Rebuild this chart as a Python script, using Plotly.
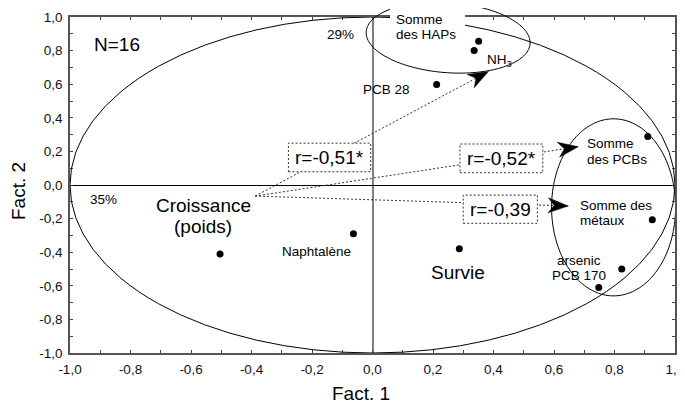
import numpy as np
import plotly.graph_objects as go

FONT = "Liberation Sans, Arial, sans-serif"

# ---------------- data ----------------
var_names = ["Croissance (poids)", "Naphtalène", "Survie", "PCB 28", "Somme des HAPs", "NH3",
             "Somme des PCBs", "Somme des métaux", "arsenic", "PCB 170"]
fact1 = [-0.504, -0.063, 0.287, 0.212, 0.351, 0.336, 0.910, 0.925, 0.824, 0.748]
fact2 = [-0.410, -0.290, -0.380, 0.598, 0.855, 0.800, 0.288, -0.207, -0.500, -0.610]

# correlation arrows (from the "Croissance" label towards groups)
r_texts = ["r=-0,51*", "r=-0,52*", "r=-0,39"]
arrow_from = [-0.388, -0.066]
arrow_to_x = [0.383, 0.680, 0.647]
arrow_to_y = [0.675, 0.228, -0.125]
r_box_x0 = [-0.278, 0.289, 0.300]
r_box_x1 = [-0.006, 0.563, 0.545]
r_box_y0 = [0.079, 0.073, -0.228]
r_box_y1 = [0.249, 0.244, -0.060]

# group ellipses (HAPs / NH3, PCBs / métaux)
group_cx = [0.250, 0.797]
group_cy = [0.877, -0.133]
group_rx = [0.271, 0.205]
group_ry = [0.209, 0.527]
group_tilt = [-0.11, 0.0]

# axis ticks
tick_vals = [-1.0, -0.8, -0.6, -0.4, -0.2, 0.0, 0.2, 0.4, 0.6, 0.8, 1.0]
tick_text = ["-1,0", "-0,8", "-0,6", "-0,4", "-0,2", "0,0", "0,2", "0,4", "0,6", "0,8", "1,0"]
axis_range = [-1.0, 1.0]

# text labels
label_lines = [["N=16"], ["29%"], ["35%"], ["Croissance", "(poids)"], ["Naphtalène"], ["Survie"],
               ["PCB 28"], ["Somme", "des HAPs"], ["NH<sub>3</sub>"], ["Somme", "des PCBs"],
               ["Somme des", "métaux"], ["arsenic", "PCB 170"]]
label_x = [-0.843, -0.105, -0.889, -0.559, -0.184, 0.283, 0.0456, 0.071, 0.373, 0.703, 0.680, 0.682]
label_y = [0.835, 0.894, -0.089, -0.186, -0.398, -0.523, 0.571, 0.939, 0.740, 0.201, -0.166, -0.494]
label_size = [19, 13.5, 13.5, 19, 13.5, 19, 13.5, 13.5, 13.5, 13.5, 13.5, 13.5]
label_gap = [0, 0, 0, 21, 0, 0, 0, 15, 0, 16, 15.7, 15.7]
label_anchor = ["center", "center", "center", "center", "center", "center", "center",
                "left", "left", "left", "left", "center"]

# white mask behind "Somme des HAPs" (x data, y paper)
mask_x = [0.058, 0.306]
mask_y = [0.9196, 1.06]

# plot geometry (pixels) and arrowhead style (pixels)
PLOT_W, PLOT_H = 605, 336
HEAD_LEN, HEAD_HALF_W, HEAD_NOTCH = 20.0, 7.5, 6.0

fig = go.Figure()

# dotted arrow lines
for i in range(len(r_texts)):
    fig.add_trace(go.Scatter(x=[arrow_from[0], arrow_to_x[i]], y=[arrow_from[1], arrow_to_y[i]],
                             mode="lines", line=dict(color="#333", width=1, dash="2px,2px"),
                             hoverinfo="skip", showlegend=False))

# stealth arrowheads built from each arrow's direction
sx = PLOT_W / (axis_range[1] - axis_range[0])
sy = PLOT_H / (axis_range[1] - axis_range[0])
for i in range(len(r_texts)):
    tx, ty = arrow_to_x[i], arrow_to_y[i]
    dxp = (tx - arrow_from[0]) * sx
    dyp = (ty - arrow_from[1]) * sy
    ln = np.hypot(dxp, dyp)
    ux, uy = dxp / ln, dyp / ln
    nx, ny = -uy, ux
    pts_px = [(0, 0),
              (-HEAD_LEN * ux + HEAD_HALF_W * nx, -HEAD_LEN * uy + HEAD_HALF_W * ny),
              (-(HEAD_LEN - HEAD_NOTCH) * ux, -(HEAD_LEN - HEAD_NOTCH) * uy),
              (-HEAD_LEN * ux - HEAD_HALF_W * nx, -HEAD_LEN * uy - HEAD_HALF_W * ny),
              (0, 0)]
    hx = [tx + p[0] / sx for p in pts_px]
    hy = [ty + p[1] / sy for p in pts_px]
    fig.add_trace(go.Scatter(x=hx, y=hy, mode="lines", fill="toself", fillcolor="black",
                             line=dict(color="black", width=0.5), hoverinfo="skip", showlegend=False))

# variable points
fig.add_trace(go.Scatter(x=fact1, y=fact2, mode="markers", text=var_names,
                         marker=dict(color="black", size=7), showlegend=False))

shapes = []
# unit correlation circle
shapes.append(dict(type="circle", xref="x", yref="y", x0=-1, x1=1, y0=-1, y1=1,
                   line=dict(color="black", width=1), layer="above"))


def to_paper_y(v):
    return (np.asarray(v) - axis_range[0]) / (axis_range[1] - axis_range[0])


for cx, cy, rx, ry, tl in zip(group_cx, group_cy, group_rx, group_ry, group_tilt):
    t = np.linspace(0, 2 * np.pi, 160)
    xs = cx + rx * np.cos(t)
    ys = to_paper_y(cy + ry * np.sin(t) + tl * rx * np.cos(t))
    path = "M" + " L".join(f"{a:.5f},{b:.5f}" for a, b in zip(xs, ys)) + " Z"
    shapes.append(dict(type="path", xref="x", yref="paper", path=path,
                       line=dict(color="black", width=1), layer="above"))

# mask
shapes.append(dict(type="rect", xref="x", yref="paper", x0=mask_x[0], x1=mask_x[1],
                   y0=mask_y[0], y1=mask_y[1], fillcolor="white", line=dict(width=0), layer="above"))

# dotted r boxes
for i in range(len(r_texts)):
    shapes.append(dict(type="rect", xref="x", yref="y", x0=r_box_x0[i], x1=r_box_x1[i],
                       y0=r_box_y0[i], y1=r_box_y1[i], fillcolor="white",
                       line=dict(color="#333", width=1, dash="2px,2px"), layer="above"))

annotations = []
for i in range(len(r_texts)):
    annotations.append(dict(x=(r_box_x0[i] + r_box_x1[i]) / 2, y=(r_box_y0[i] + r_box_y1[i]) / 2,
                            xref="x", yref="y", text=r_texts[i], showarrow=False,
                            font=dict(size=19, color="black", family=FONT)))

for lines, x, y, sz, gap, anc in zip(label_lines, label_x, label_y, label_size, label_gap, label_anchor):
    n = len(lines)
    for k, t in enumerate(lines):
        annotations.append(dict(x=x, y=y, xref="x", yref="y", text=t, showarrow=False,
                                xanchor=anc, yanchor="middle", align=anc,
                                yshift=((n - 1) / 2 - k) * gap,
                                font=dict(size=sz, color="black", family=FONT)))

# axis titles
annotations.append(dict(x=0.4815, y=-0.12, xref="paper", yref="paper", text="Fact. 1", showarrow=False,
                        xanchor="center", yanchor="middle", font=dict(size=19, color="black", family=FONT)))
annotations.append(dict(x=-0.0851, y=0.4807, xref="paper", yref="paper", text="Fact. 2", showarrow=False,
                        textangle=-90, xanchor="center", yanchor="middle",
                        font=dict(size=19, color="black", family=FONT)))

axis_common = dict(range=axis_range, tickmode="array", tickvals=tick_vals, ticktext=tick_text,
                   ticks="inside", ticklen=3, tickwidth=1, tickcolor="#444",
                   showline=True, linecolor="#555", linewidth=1.5, mirror="ticks",
                   showgrid=False, zeroline=True, ticklabelstandoff=3, automargin=False,
                   tickfont=dict(size=13.5, color="#111", family=FONT),
                   minor=dict(tickmode="linear", tick0=-1, dtick=0.1, ticks="inside", ticklen=3,
                              tickwidth=1, tickcolor="#444", showgrid=False))

# page body has an 8px default margin: shrink the figure and its left/top margins by 8px
fig.update_layout(
    width=677, height=399,
    margin=dict(l=62, r=10, t=9, b=54),
    paper_bgcolor="white", plot_bgcolor="white",
    font=dict(family=FONT, color="black"),
    xaxis=dict(axis_common, zerolinecolor="#808080", zerolinewidth=1.5),
    yaxis=dict(axis_common, zerolinecolor="black", zerolinewidth=1),
    shapes=shapes, annotations=annotations, showlegend=False,
)

fig.write_html("out.html")
